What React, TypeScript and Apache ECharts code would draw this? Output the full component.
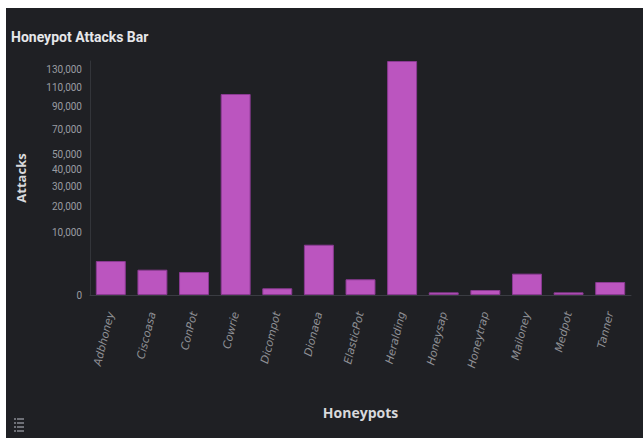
import React, { useEffect, useRef } from "react";
import * as echarts from "echarts";

const categories = [
  "Adbhoney", "Ciscoasa", "ConPot", "Cowrie", "Dicompot", "Dionaea", "ElasticPot",
  "Heralding", "Honeysap", "Honeytrap", "Mailoney", "Medpot", "Tanner",
];
const attacks = [2940, 1630, 1350, 102850, 115, 6440, 630, 139400, 18, 64, 1160, 18, 430];
const yTicks = [0, 10000, 20000, 30000, 40000, 50000, 70000, 90000, 110000, 130000];

export default function App() {
  const ref = useRef<HTMLDivElement>(null);
  useEffect(() => {
    if (!ref.current) return;
    const chart = echarts.init(ref.current, null, { renderer: "svg" });
    const sqrtData = attacks.map((v) => Math.sqrt(v));
    chart.setOption({
      animation: false,
      backgroundColor: "#1f2024",
      title: {
        text: "Honeypot Attacks Bar",
        left: 0,
        top: 17,
        textStyle: { color: "#e6e7ea", fontSize: 14, fontWeight: "bold", fontFamily: "Roboto" },
      },
      grid: { left: 81, right: 12, top: 53, bottom: 143, containLabel: false },
      xAxis: {
        type: "category",
        data: categories,
        name: "Honeypots",
        nameLocation: "middle",
        nameGap: 110,
        nameTextStyle: { color: "#d8d9dc", fontSize: 14, fontWeight: "bold", fontFamily: "Open Sans" },
        axisLine: { show: true, lineStyle: { color: "#3a3c42", width: 1 } },
        axisTick: { show: false },
        axisLabel: {
          rotate: 76,
          interval: 0,
          margin: 17,
          color: "#8f9095",
          fontSize: 11,
          fontStyle: "italic",
          fontFamily: "DejaVu Sans",
        },
      },
      yAxis: {
        type: "value",
        min: 0,
        max: "dataMax",
        name: "Attacks",
        nameLocation: "middle",
        nameGap: 63,
        nameRotate: 90,
        nameTextStyle: { color: "#d8d9dc", fontSize: 13, fontWeight: "bold", fontFamily: "Open Sans" },
        axisLine: { show: true, lineStyle: { color: "#33353a", width: 1 } },
        axisTick: { show: false },
        splitLine: { show: false },
        axisLabel: {
          customValues: yTicks.map((v) => Math.sqrt(v)),
          formatter: (v: number) => Math.round(v * v).toLocaleString("en-US"),
          color: "#9a9ca2",
          fontSize: 10,
          margin: 8,
          fontFamily: "Roboto",
        },
      },
      series: [
        {
          type: "bar",
          data: sqrtData,
          barCategoryGap: "28%",
          itemStyle: { color: "#bb55bf", borderColor: "#8a3a92", borderWidth: 1 },
        },
      ],
      graphic: [
        { type: "rect", left: 8, top: 410, shape: { width: 2, height: 2 }, style: { fill: "#6e7077" } },
        { type: "rect", left: 11, top: 410, shape: { width: 7, height: 2 }, style: { fill: "#6e7077" } },
        { type: "rect", left: 8, top: 414, shape: { width: 2, height: 2 }, style: { fill: "#6e7077" } },
        { type: "rect", left: 11, top: 414, shape: { width: 7, height: 2 }, style: { fill: "#6e7077" } },
        { type: "rect", left: 8, top: 418, shape: { width: 2, height: 2 }, style: { fill: "#6e7077" } },
        { type: "rect", left: 11, top: 418, shape: { width: 7, height: 2 }, style: { fill: "#6e7077" } },
        { type: "rect", left: 8, top: 422, shape: { width: 2, height: 2 }, style: { fill: "#6e7077" } },
        { type: "rect", left: 11, top: 422, shape: { width: 7, height: 2 }, style: { fill: "#6e7077" } },
      ],
    });
    return () => chart.dispose();
  }, []);
  return (
    <div
      ref={ref}
      style={{ position: "absolute", left: 6, top: 8, width: 637, height: 430 }}
    />
  );
}
